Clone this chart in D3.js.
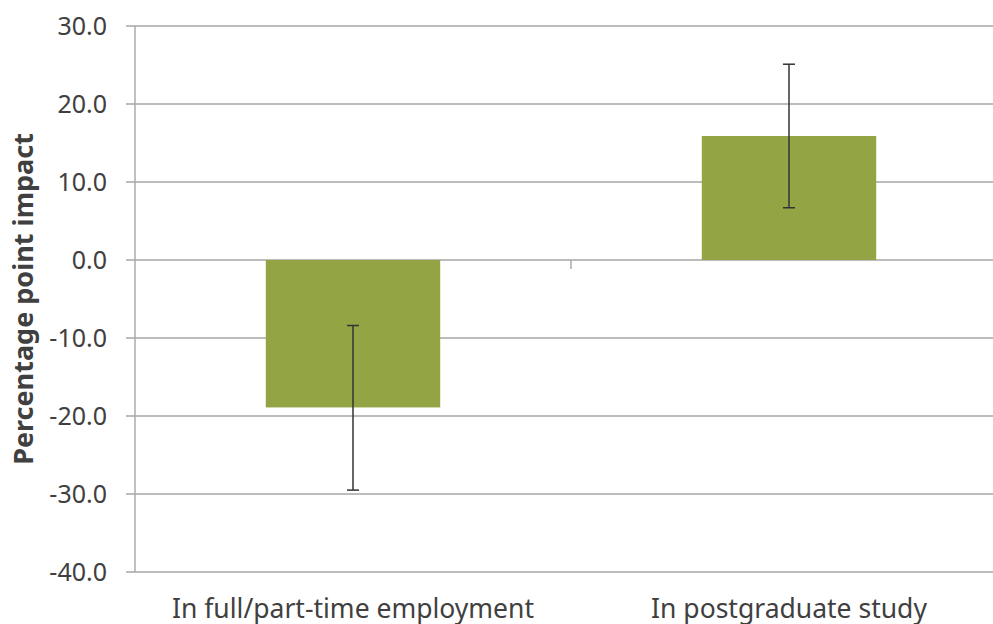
<!DOCTYPE html>
<html>
<head>
<meta charset="utf-8">
<script src="https://cdn.jsdelivr.net/npm/d3@7"></script>
<style>
  body { margin: 0; background: #fff; }
  svg { display: block; font-family: "Noto Sans", "Open Sans", sans-serif; }
  .tick-label { font-size: 25px; fill: #404040; }
  .cat-label { font-size: 26.5px; fill: #404040; }
  .y-title { font-size: 27px; font-weight: bold; fill: #404040; }
</style>
</head>
<body>
<script>
// data
var categories = ['In full/part-time employment', 'In postgraduate study'];
var impact = [-18.9, 15.9];
var errLow = [-29.5, 6.7];
var errHigh = [-8.4, 25.1];
var yTicks = [-40, -30, -20, -10, 0, 10, 20, 30];

// general setup
var margin = { top: 26, left: 135 };
var width = 872, height = 546;

var svg = d3.select('body').append('svg')
  .attr('width', 993).attr('height', 624);
var g = svg.append('g').attr('transform', 'translate(' + margin.left + ',' + margin.top + ')');

var yScale = d3.scaleLinear().domain([-40, 30]).range([height, 0]);
var xScale = d3.scaleBand().domain(categories).range([0, width]).paddingInner(0.6).paddingOuter(0.3);

// gridlines
g.selectAll('.grid').data(yTicks).enter().append('line')
  .attr('x1', -9).attr('x2', width)
  .attr('y1', function (d) { return yScale(d); })
  .attr('y2', function (d) { return yScale(d); })
  .attr('stroke', '#a6a6a6').attr('stroke-width', 1.4);

// y tick labels
g.selectAll('.tick-label').data(yTicks).enter().append('text')
  .attr('class', 'tick-label')
  .attr('x', -28)
  .attr('y', function (d) { return yScale(d); })
  .attr('dy', '0.35em')
  .attr('text-anchor', 'end')
  .text(function (d) { return d.toFixed(1); });

// y axis line
g.append('line').attr('x1', 0).attr('x2', 0).attr('y1', 0).attr('y2', height)
  .attr('stroke', '#a6a6a6').attr('stroke-width', 1.4);

// bars
g.selectAll('.bar').data(impact).enter().append('rect')
  .attr('x', function (d, i) { return xScale(categories[i]); })
  .attr('width', xScale.bandwidth())
  .attr('y', function (d) { return yScale(Math.max(0, d)); })
  .attr('height', function (d) { return Math.abs(yScale(d) - yScale(0)); })
  .attr('fill', '#93a445');

// category tick on zero line
g.append('line')
  .attr('x1', xScale.step()).attr('x2', xScale.step())
  .attr('y1', yScale(0)).attr('y2', yScale(0) + 9)
  .attr('stroke', '#a6a6a6').attr('stroke-width', 1.4);

// error bars
var err = g.selectAll('.err').data(impact).enter().append('g');
function cx(i) { return xScale(categories[i]) + xScale.bandwidth() / 2; }
err.append('line')
  .attr('x1', function (d, i) { return cx(i); })
  .attr('x2', function (d, i) { return cx(i); })
  .attr('y1', function (d, i) { return yScale(errLow[i]); })
  .attr('y2', function (d, i) { return yScale(errHigh[i]); })
  .attr('stroke', '#333').attr('stroke-width', 1.5);
err.append('line')
  .attr('x1', function (d, i) { return cx(i) - 6; })
  .attr('x2', function (d, i) { return cx(i) + 6; })
  .attr('y1', function (d, i) { return yScale(errLow[i]); })
  .attr('y2', function (d, i) { return yScale(errLow[i]); })
  .attr('stroke', '#333').attr('stroke-width', 1.5);
err.append('line')
  .attr('x1', function (d, i) { return cx(i) - 6; })
  .attr('x2', function (d, i) { return cx(i) + 6; })
  .attr('y1', function (d, i) { return yScale(errHigh[i]); })
  .attr('y2', function (d, i) { return yScale(errHigh[i]); })
  .attr('stroke', '#333').attr('stroke-width', 1.5);

// category labels
g.selectAll('.cat-label').data(categories).enter().append('text')
  .attr('class', 'cat-label')
  .attr('x', function (d) { return xScale(d) + xScale.bandwidth() / 2; })
  .attr('y', 618 - margin.top)
  .attr('text-anchor', 'middle')
  .text(function (d) { return d; });

// y title
svg.append('text').attr('class', 'y-title')
  .attr('transform', 'translate(33,' + (margin.top + height / 2) + ') rotate(-90)')
  .attr('text-anchor', 'middle')
  .text('Percentage point impact');
</script>
</body>
</html>
